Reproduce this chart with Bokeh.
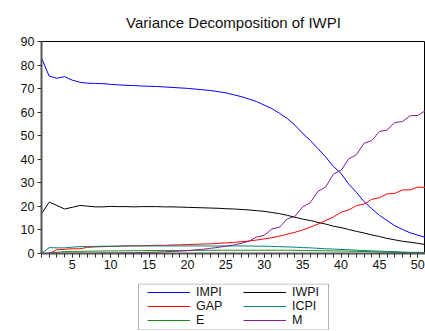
from bokeh.plotting import figure
from bokeh.models import Legend, LegendItem, FixedTicker, Title, BoxAnnotation
from bokeh.layouts import column
from bokeh.embed import file_html
from bokeh.resources import INLINE

periods = list(range(1, 52))

impi = [83.0, 75.3, 74.4, 75.1, 73.6, 72.7, 72.3, 72.2, 72.1, 71.8,
        71.6, 71.4, 71.3, 71.1, 71.0, 70.9, 70.7, 70.5, 70.3, 70.1,
        69.8, 69.5, 69.2, 68.7, 68.2, 67.4, 66.6, 65.6, 64.5, 63.0,
        61.5, 59.5, 57.3, 54.5, 51.0, 48.0, 44.5, 41.0, 37.0, 34.0,
        29.5, 26.0, 22.0, 19.0, 16.2, 14.0, 11.8, 10.2, 8.8, 7.8, 6.8]
iwpi = [16.9, 21.8, 20.4, 18.9, 19.6, 20.4, 20.1, 19.8, 19.8, 20.0,
        19.9, 19.9, 19.8, 19.9, 19.9, 19.9, 19.8, 19.8, 19.7, 19.6,
        19.5, 19.4, 19.3, 19.2, 19.0, 18.9, 18.7, 18.5, 18.2, 17.9,
        17.4, 16.9, 16.2, 15.4, 14.6, 14.0, 13.2, 12.5, 11.6, 11.0,
        10.2, 9.4, 8.7, 7.9, 7.2, 6.4, 5.8, 5.2, 4.8, 4.3, 3.8]
gap = [0.0, 0.0, 1.6, 1.8, 2.0, 2.0, 2.6, 2.8, 2.9, 3.0,
       3.1, 3.2, 3.3, 3.3, 3.4, 3.5, 3.5, 3.6, 3.7, 3.8,
       3.9, 4.0, 4.1, 4.3, 4.5, 4.7, 5.0, 5.3, 5.7, 6.2,
       6.7, 7.4, 8.2, 9.0, 10.0, 11.2, 12.5, 14.0, 15.5, 17.5,
       18.5, 20.3, 21.0, 23.0, 23.7, 25.3, 25.5, 27.0, 27.0, 28.2, 28.0]
icpi = [0.0, 2.5, 2.4, 2.4, 2.7, 2.9, 3.0, 3.0, 3.1, 3.1,
        3.1, 3.2, 3.2, 3.2, 3.2, 3.2, 3.2, 3.2, 3.2, 3.2,
        3.2, 3.2, 3.2, 3.2, 3.2, 3.2, 3.2, 3.2, 3.1, 3.1,
        3.0, 2.9, 2.8, 2.7, 2.5, 2.4, 2.2, 2.0, 1.9, 1.7,
        1.6, 1.4, 1.3, 1.1, 1.0, 0.9, 0.8, 0.6, 0.5, 0.5, 0.4]
e = [0.0, 0.05, 0.5, 0.8, 0.9, 0.9, 1.0, 1.0, 1.05, 1.1,
     1.1, 1.15, 1.2, 1.2, 1.25, 1.25, 1.3, 1.3, 1.3, 1.3,
     1.35, 1.35, 1.35, 1.4, 1.4, 1.4, 1.4, 1.4, 1.4, 1.4,
     1.4, 1.4, 1.4, 1.35, 1.3, 1.25, 1.2, 1.15, 1.1, 1.05,
     1.0, 0.9, 0.85, 0.75, 0.65, 0.55, 0.5, 0.4, 0.35, 0.3, 0.3]
m = [0.0, 0.1, 0.1, 0.1, 0.1, 0.1, 0.1, 0.1, 0.2, 0.2,
     0.2, 0.3, 0.3, 0.4, 0.5, 0.6, 0.7, 0.9, 1.0, 1.2,
     1.5, 1.8, 2.2, 2.6, 3.1, 3.6, 4.3, 5.2, 7.0, 7.7,
     10.4, 11.2, 14.7, 15.8, 19.8, 21.6, 26.4, 28.2, 33.7, 35.3,
     40.2, 41.9, 46.8, 47.9, 51.8, 52.4, 55.6, 56.0, 58.5, 58.6, 60.7]

x_ticks = [5, 10, 15, 20, 25, 30, 35, 40, 45, 50]
y_ticks = [0, 10, 20, 30, 40, 50, 60, 70, 80, 90]

series_names = ["IMPI", "IWPI", "GAP", "ICPI", "E", "M"]
series_values = [impi, iwpi, gap, icpi, e, m]
series_colors = ["#0000ff", "#000000", "#ff0000", "#008080", "#1a8c1a", "#8b1a8b"]
legend_col1 = ["IMPI", "GAP", "E"]
legend_col2 = ["IWPI", "ICPI", "M"]

FONT = "Liberation Sans"

# ---- main chart ----
p = figure(width=425, height=275, x_range=(1, 51), y_range=(0, 90),
           output_backend="svg", toolbar_location=None,
           min_border_left=41, min_border_right=0, min_border_top=40,
           min_border_bottom=22)
p.title = Title(text="Variance Decomposition of IWPI", align="center",
                text_font=FONT, text_font_size="15px", text_font_style="normal",
                text_color="#111111", standoff=22)

p.xgrid.visible = False
p.ygrid.visible = False
p.outline_line_color = "black"
p.outline_line_width = 1
p.background_fill_color = "white"
p.border_fill_color = "white"

for ax in (p.xaxis[0], p.yaxis[0]):
    ax.axis_line_color = "#555555"
    ax.axis_line_width = 2
    ax.major_tick_line_color = "#333333"
    ax.minor_tick_line_color = "#333333"
    ax.major_tick_in = 0
    ax.major_tick_out = 4
    ax.minor_tick_in = 0
    ax.minor_tick_out = 4
    ax.major_label_text_font = FONT
    ax.major_label_text_font_size = "12.5px"
    ax.major_label_text_color = "#111111"

p.xaxis[0].ticker = FixedTicker(ticks=x_ticks, minor_ticks=periods)
p.xaxis[0].major_label_standoff = 2
p.yaxis[0].ticker = FixedTicker(ticks=y_ticks, minor_ticks=[])
p.yaxis[0].major_label_standoff = 3

for name, vals, col in zip(series_names, series_values, series_colors):
    p.line(periods, vals, line_color=col, line_width=1)

# ---- legend panel: frame is 384 x 47 px, ranges in pixels ----
lg = figure(width=425, height=55, x_range=(0, 384), y_range=(0, 47),
            output_backend="svg", toolbar_location=None,
            x_axis_type=None, y_axis_type=None,
            min_border_left=41, min_border_right=0,
            min_border_top=8, min_border_bottom=0)
lg.xgrid.visible = False
lg.ygrid.visible = False
lg.outline_line_color = None
lg.border_fill_color = "white"
lg.background_fill_color = "white"

lg.add_layout(BoxAnnotation(left=97, right=287, bottom=0.5, top=46.5,
                            fill_alpha=0, line_color="black", line_width=1))

dummy = {}
for name, col in zip(series_names, series_colors):
    # off-screen placeholder renderers, only used for the legend swatches
    dummy[name] = lg.line([-10, -5], [-10, -5], line_color=col, line_width=1)


def make_legend(names, x_off):
    return Legend(items=[LegendItem(label=n, renderers=[dummy[n]]) for n in names],
                  orientation="vertical", location=(x_off, 1),
                  border_line_alpha=0, background_fill_alpha=0,
                  padding=2, spacing=0, margin=0,
                  glyph_width=43, glyph_height=12, label_height=12,
                  label_standoff=6,
                  label_text_font=FONT, label_text_font_size="12.5px",
                  label_text_color="#111111")


lg.add_layout(make_legend(legend_col1, 104), "center")
lg.add_layout(make_legend(legend_col2, 200), "center")

layout = column(p, lg, spacing=0)
open("out.html", "w").write(file_html(layout, INLINE))
